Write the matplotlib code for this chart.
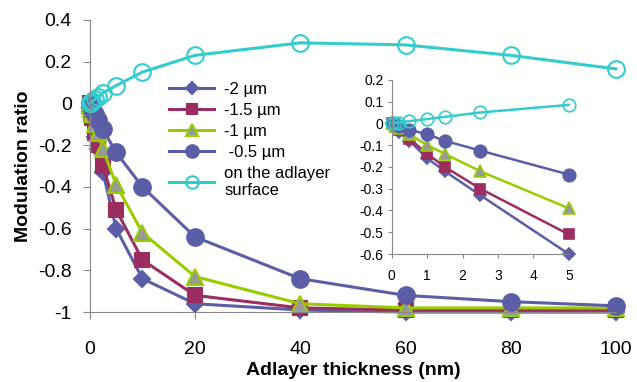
import numpy as np
import matplotlib.pyplot as plt

plt.rcParams['font.family'] = ['Liberation Sans', 'DejaVu Sans']

# thickness values (nm)
x = [0, 0.1, 0.2, 0.5, 1, 1.5, 2.5, 5, 10, 20, 40, 60, 80, 100]

m2_0 = [0, -0.02, -0.04, -0.08, -0.16, -0.22, -0.33, -0.60, -0.84, -0.96, -0.99, -1.0, -1.0, -1.0]
m1_5 = [0, -0.015, -0.03, -0.07, -0.14, -0.20, -0.30, -0.51, -0.75, -0.92, -0.98, -0.99, -0.99, -0.99]
m1_0 = [0, -0.01, -0.02, -0.05, -0.10, -0.14, -0.22, -0.39, -0.62, -0.83, -0.96, -0.98, -0.98, -0.98]
m0_5 = [0, -0.005, -0.01, -0.03, -0.05, -0.08, -0.125, -0.235, -0.40, -0.64, -0.84, -0.92, -0.95, -0.97]
surf = [0, 0.002, 0.004, 0.01, 0.02, 0.03, 0.05, 0.085, 0.15, 0.23, 0.29, 0.28, 0.23, 0.165]

labels = ['-2 \u00b5m', '-1.5 \u00b5m', '-1 \u00b5m', ' -0.5 \u00b5m', 'on the adlayer\nsurface']

blue = '#5b5ea6'
maroon = '#9b2d5f'
lime = '#99cc00'
cyan = '#33cccc'
grey = '#888888'

styles = [
    dict(color=blue, marker='D', mfc=blue, mec=blue),
    dict(color=maroon, marker='s', mfc=maroon, mec=maroon),
    dict(color=lime, marker='^', mfc='#999999', mec=lime),
    dict(color=blue, marker='o', mfc=blue, mec=blue),
    dict(color=cyan, marker='o', mfc='none', mec=cyan),
]
series = [m2_0, m1_5, m1_0, m0_5, surf]
sizes = [8, 10, 11, 12, 12]

fig = plt.figure(figsize=(6.37, 3.82), dpi=100)
ax = fig.add_axes([0.141, 0.183, 0.826, 0.765])

for y, st, lab, ms in zip(series, styles, labels, sizes):
    ax.plot(x, y, lw=2.2, ms=ms, mew=1.5, label=lab, **st, clip_on=False)

ax.set_xlim(0, 100)
ax.set_ylim(-1, 0.4)
ax.set_xticks([0, 20, 40, 60, 80, 100])
ax.set_yticks([-1, -0.8, -0.6, -0.4, -0.2, 0, 0.2, 0.4])
ax.set_yticklabels(['-1', '-0.8', '-0.6', '-0.4', '-0.2', '0', '0.2', '0.4'])
for s in ['top', 'right']:
    ax.spines[s].set_visible(False)
for s in ['left', 'bottom']:
    ax.spines[s].set_color(grey)
ax.tick_params(axis='x', colors=grey, labelcolor='black', labelsize=14, length=5, pad=16)
ax.tick_params(axis='y', colors=grey, labelcolor='black', labelsize=14, length=5, pad=8)
ax.set_xlabel('Adlayer thickness (nm)', fontsize=14, fontweight='bold', labelpad=3)
ax.set_ylabel('Modulation ratio', fontsize=14, fontweight='bold', labelpad=4)

leg = ax.legend(loc='upper left', bbox_to_anchor=(0.135, 0.815), frameon=False,
                fontsize=12, handlelength=2.7, labelspacing=0.35, borderpad=0,
                handletextpad=0.6, markerscale=0.75)

# inset
ins = fig.add_axes([0.615, 0.335, 0.278, 0.456])
for y, st, ms in zip(series, styles, sizes):
    ins.plot(x[:8], y[:8], lw=1.8, ms=ms * 0.75, mew=1.2, **st, clip_on=False)
ins.set_xlim(0, 5)
ins.set_ylim(-0.6, 0.2)
ins.set_xticks([0, 1, 2, 3, 4, 5])
ins.set_yticks([-0.6, -0.5, -0.4, -0.3, -0.2, -0.1, 0, 0.1, 0.2])
ins.set_yticklabels(['-0.6', '-0.5', '-0.4', '-0.3', '-0.2', '-0.1', '0', '0.1', '0.2'])
ins.patch.set_alpha(0)
for s in ['top', 'right']:
    ins.spines[s].set_visible(False)
for s in ['left', 'bottom']:
    ins.spines[s].set_color(grey)
ins.tick_params(axis='both', colors=grey, labelcolor='black', labelsize=10, length=3, pad=3)
ins.tick_params(axis='x', pad=8)

fig.savefig('out.png', dpi=100)
